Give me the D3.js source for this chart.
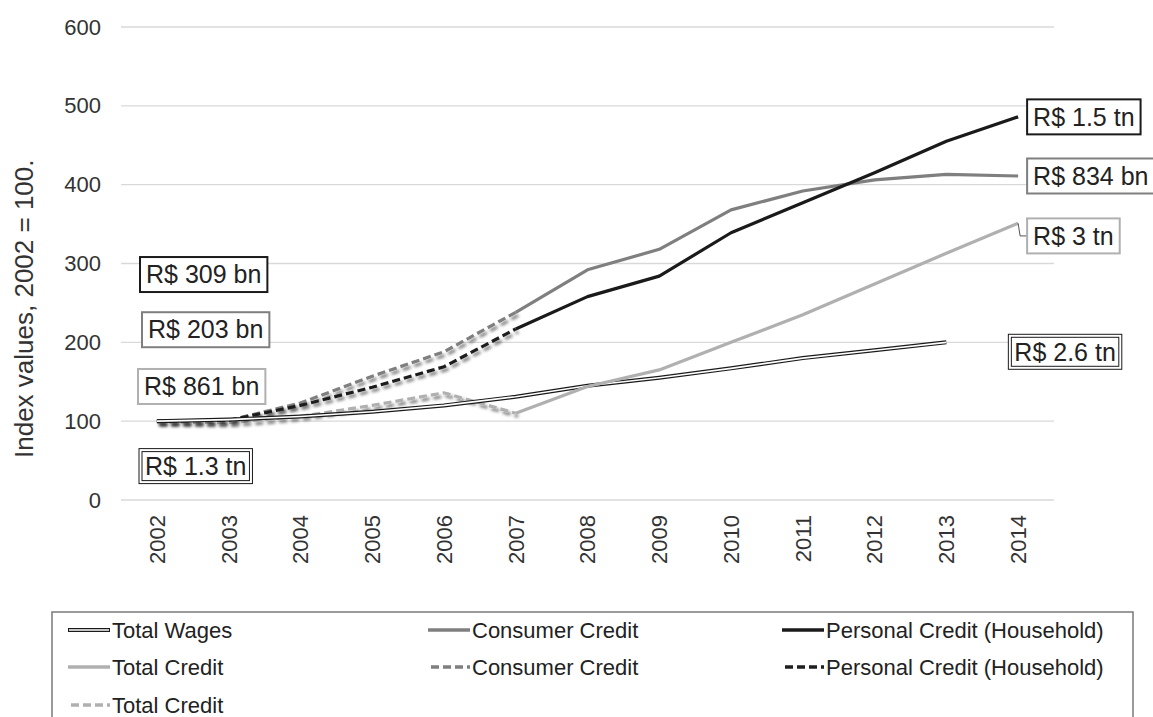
<!DOCTYPE html>
<html>
<head>
<meta charset="utf-8">
<script src="https://cdn.jsdelivr.net/npm/d3@7/dist/d3.min.js"></script>
<style>
html,body{margin:0;padding:0;background:#fff;}
svg{display:block;font-family:"Liberation Sans",Arial,sans-serif;}
</style>
</head>
<body>
<svg id="chart" width="1153" height="717"></svg>
<script>
// ---- data ----
const years = ["2002","2003","2004","2005","2006","2007","2008","2009","2010","2011","2012","2013","2014"];
const yTicks = [0,100,200,300,400,500,600];
const totalWages      = [100,102,106,112,120,131,145,155,167,180,190,200,null];
const consumerCredit  = [null,null,null,null,null,238,292,318,368,392,406,413,411];
const personalCredit  = [null,null,null,null,null,217,258,284,339,377,415,455,486];
const totalCredit     = [null,null,null,null,null,110,144,165,200,235,274,313,351];
const consumerDashed  = [100,101,123,157,188,238];
const personalDashed  = [100,101,120,143,169,217];
const totalDashed     = [99,98,106,120,136,110];
const legendLabels = ["Total Wages","Consumer Credit","Personal Credit (Household)","Total Credit","Consumer Credit","Personal Credit (Household)","Total Credit"];
const boxLabels = ["R$ 309 bn","R$ 203 bn","R$ 861 bn","R$ 1.3 tn","R$ 1.5 tn","R$ 834 bn","R$ 3 tn","R$ 2.6 tn"];

// ---- setup ----
const svg = d3.select("#chart");
const x = d3.scaleBand().domain(years).range([121, 1054]);
const xc = d => x(d) + x.bandwidth()/2;
const y = d3.scaleLinear().domain([0,600]).range([500, 27]);

const defs = svg.append("defs");
const f = defs.append("filter").attr("id","shadow").attr("x","-10%").attr("y","-50%").attr("width","130%").attr("height","200%");
f.append("feDropShadow").attr("dx",2.5).attr("dy",3).attr("stdDeviation",1.8).attr("flood-color","#000").attr("flood-opacity",0.5);

// gridlines
svg.append("g").selectAll("line").data(yTicks).join("line")
  .attr("x1",121).attr("x2",1054).attr("y1",d=>y(d)).attr("y2",d=>y(d))
  .attr("stroke","#d9d9d9").attr("stroke-width",1.3);

// y axis
const yAxis = svg.append("g").attr("transform","translate(121,0)")
  .call(d3.axisLeft(y).tickValues(yTicks).tickSize(0).tickPadding(20));
yAxis.select(".domain").remove();
yAxis.selectAll("text").attr("font-size",22).attr("fill","#333").attr("font-family","Liberation Sans, Arial, sans-serif");

// x axis labels (rotated)
const xAxis = svg.append("g").attr("transform","translate(0,500)")
  .call(d3.axisBottom(x).tickSize(0).tickPadding(0));
xAxis.select(".domain").remove();
xAxis.selectAll("text")
  .attr("font-size",22).attr("fill","#333").attr("font-family","Liberation Sans, Arial, sans-serif")
  .attr("transform","rotate(-90)")
  .attr("text-anchor","end")
  .attr("x",-15).attr("y",0).attr("dy","0.36em").attr("dx",0);

// y title
svg.append("text").attr("transform","translate(33,458) rotate(-90)")
  .attr("text-anchor","start").attr("font-size",26).attr("fill","#333")
  .text("Index values, 2002 = 100.");

// ---- lines ----
const line = d3.line().defined(d=>d.v!=null).x(d=>xc(d.k)).y(d=>y(d.v));
const toPts = arr => arr.map((v,i)=>({k:years[i], v:v}));

const g = svg.append("g");
function dashed(arr,color){
  g.append("path").datum(toPts(arr)).attr("d",line).attr("fill","none")
   .attr("stroke",color).attr("stroke-width",3.2).attr("stroke-dasharray","8,4")
   .attr("filter","url(#shadow)");
}
dashed(totalDashed,"#b0b0b0");
dashed(consumerDashed,"#7f7f7f");
dashed(personalDashed,"#1f1f1f");

// total wages double line
g.append("path").datum(toPts(totalWages)).attr("d",line).attr("fill","none").attr("stroke","#1a1a1a").attr("stroke-width",4);
g.append("path").datum(toPts(totalWages)).attr("d",line).attr("fill","none").attr("stroke","#fff").attr("stroke-width",1.6);

function solid(arr,color,w){
  g.append("path").datum(toPts(arr)).attr("d",line).attr("fill","none")
   .attr("stroke",color).attr("stroke-width",w).attr("stroke-linejoin","round");
}
solid(totalCredit,"#b0b0b0",3.2);
solid(consumerCredit,"#7f7f7f",3.2);
solid(personalCredit,"#1a1a1a",3.2);

// ---- boxed labels ----
const x02 = x("2002"), x13 = xc("2013"), x14 = xc("2014");
const labelSpecs = [
  {t:boxLabels[0], left:x02+19, v:286, c:"#1a1a1a", dbl:false},
  {t:boxLabels[1], left:x02+21, v:216, c:"#7f7f7f", dbl:false},
  {t:boxLabels[2], left:x02+17, v:144, c:"#b0b0b0", dbl:false},
  {t:boxLabels[3], left:x02+18, v:43,  c:"#1a1a1a", dbl:true},
  {t:boxLabels[4], left:x14+9,  v:personalCredit[12], c:"#1a1a1a", dbl:false},
  {t:boxLabels[5], left:x14+9,  v:consumerCredit[12], c:"#7f7f7f", dbl:false},
  {t:boxLabels[6], left:x14+9,  v:335, c:"#b0b0b0", dbl:false},
  {t:boxLabels[7], left:x13+62, v:188, c:"#1a1a1a", dbl:true}
];
svg.append("path")
  .attr("d",`M${x14},${y(totalCredit[12])} L${x14+2},${y(335)} L${x14+9},${y(335)}`)
  .attr("fill","none").attr("stroke","#555").attr("stroke-width",1);

const lab = svg.append("g");
labelSpecs.forEach(s=>{
  const t = lab.append("text").attr("font-size",25).attr("fill","#222")
    .attr("text-anchor","start").attr("dy","0.35em").text(s.t);
  const w = t.node().getComputedTextLength();
  const bw = w + 12, bh = 35;
  const cy = y(s.v);
  t.attr("x", s.left + 6).attr("y", cy);
  const r = lab.insert("rect", () => t.node())
    .attr("x", s.left).attr("y", cy - bh/2).attr("width", bw).attr("height", bh)
    .attr("fill","#fff");
  if (s.dbl){
    r.attr("stroke",s.c).attr("stroke-width",1);
    lab.insert("rect", () => t.node())
      .attr("x", s.left+3).attr("y", cy - bh/2 + 3).attr("width", bw-6).attr("height", bh-6)
      .attr("fill","none").attr("stroke",s.c).attr("stroke-width",1);
  } else {
    r.attr("stroke",s.c).attr("stroke-width",2);
  }
});

// ---- legend ----
const lg = svg.append("g");
lg.append("rect").attr("x",52).attr("y",612).attr("width",1081).attr("height",140)
  .attr("fill","#fff").attr("stroke","#7a7a7a").attr("stroke-width",1.5);
const colX = [68, 428, 782];
const rowY = [630, 667, 705];
const legItems = [
  {type:"wages", c:"#1a1a1a"},
  {type:"solid", c:"#7f7f7f"},
  {type:"solid", c:"#1a1a1a"},
  {type:"solid", c:"#b0b0b0"},
  {type:"dash",  c:"#7f7f7f"},
  {type:"dash",  c:"#1f1f1f"},
  {type:"dash",  c:"#b0b0b0"}
];
legItems.forEach((it,i)=>{
  const cx = colX[i%3], cy = rowY[Math.floor(i/3)];
  const L = 42;
  if (it.type==="wages"){
    lg.append("line").attr("x1",cx).attr("x2",cx+L).attr("y1",cy).attr("y2",cy).attr("stroke","#1a1a1a").attr("stroke-width",4);
    lg.append("line").attr("x1",cx+1).attr("x2",cx+L-1).attr("y1",cy).attr("y2",cy).attr("stroke","#fff").attr("stroke-width",1.6);
  } else if (it.type==="solid"){
    lg.append("line").attr("x1",cx).attr("x2",cx+L).attr("y1",cy).attr("y2",cy).attr("stroke",it.c).attr("stroke-width",3.5);
  } else {
    lg.append("line").attr("x1",cx+3).attr("x2",cx+L).attr("y1",cy).attr("y2",cy).attr("stroke",it.c).attr("stroke-width",3.5).attr("stroke-dasharray","8,4");
  }
  lg.append("text").attr("x",cx+L+2).attr("y",cy).attr("dy","0.35em")
    .attr("font-size",22).attr("fill","#222").text(legendLabels[i]);
});
</script>
</body>
</html>
